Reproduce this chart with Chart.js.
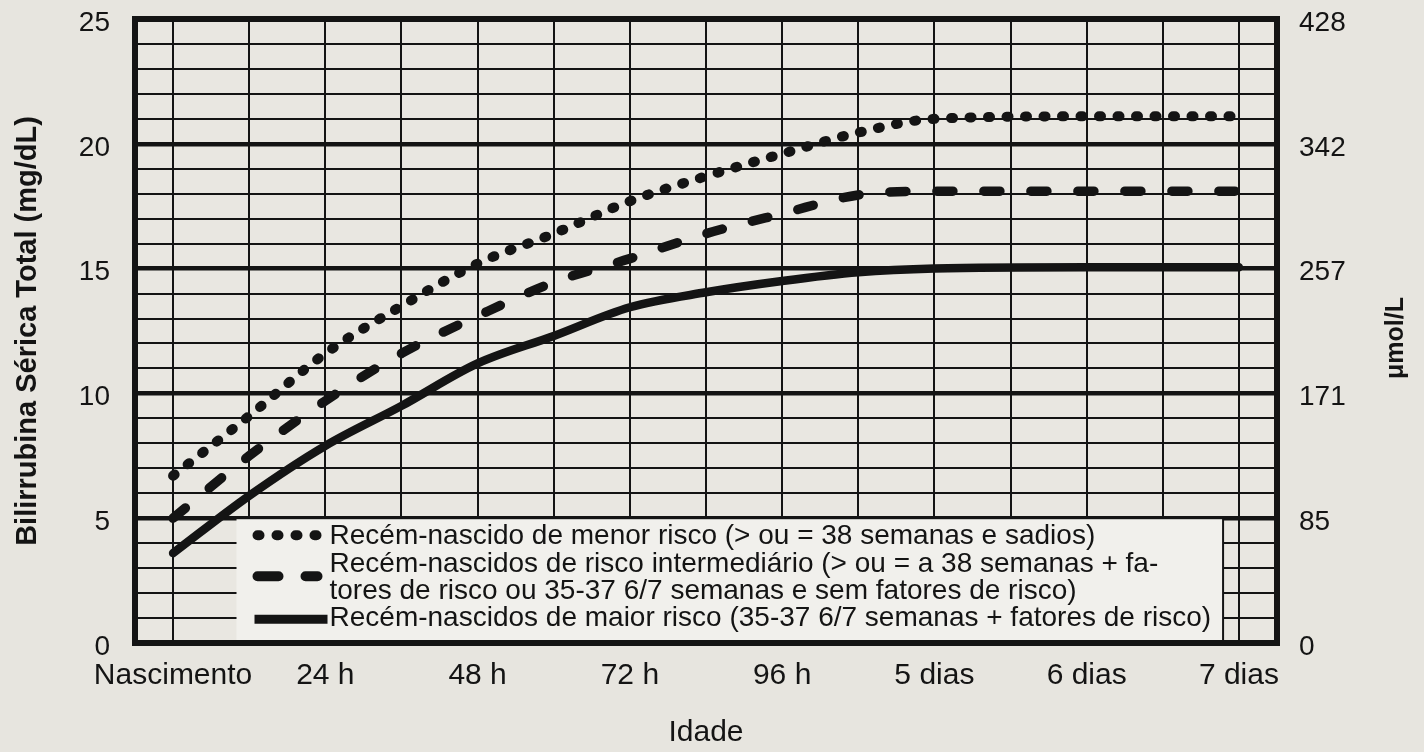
<!DOCTYPE html>
<html>
<head>
<meta charset="utf-8">
<script src="https://cdn.jsdelivr.net/npm/chart.js@4.4.1/dist/chart.umd.min.js"></script>
<style>
  html, body { margin: 0; padding: 0; background: #e7e5df; }
  #wrap { width: 1424px; height: 752px; }
</style>
</head>
<body>
<div id="wrap"><canvas id="chart" width="1424" height="752"></canvas></div>
<script>
// hours after birth, every 12 h
const hours = [0, 12, 24, 36, 48, 60, 72, 84, 96, 108, 120, 144, 168];
const lowerRisk = [6.7, 9.1, 11.6, 13.5, 15.2, 16.4, 17.7, 18.7, 19.6, 20.45, 21.0, 21.1, 21.1];
const mediumRisk = [5.0, 7.5, 9.7, 11.6, 13.1, 14.45, 15.4, 16.4, 17.2, 17.95, 18.1, 18.1, 18.1];
const higherRisk = [3.6, 5.9, 7.9, 9.5, 11.2, 12.3, 13.45, 14.05, 14.5, 14.85, 15.0, 15.05, 15.05];

const xTickHours = [0, 24, 48, 72, 96, 120, 144, 168];
const xTickLabels = ['Nascimento', '24 h', '48 h', '72 h', '96 h', '5 dias', '6 dias', '7 dias'];
const yTicks = [0, 5, 10, 15, 20, 25];
const umolTickLabels = ['0', '85', '171', '257', '342', '428'];

const legendLines = [
  'Recém-nascido de menor risco (> ou = 38 semanas e sadios)',
  'Recém-nascidos de risco intermediário (> ou = a 38 semanas + fa-',
  'tores de risco ou 35-37 6/7 semanas e sem fatores de risco)',
  'Recém-nascidos de maior risco (35-37 6/7 semanas + fatores de risco)'
];

const INK = '#141414';
const FONT = "'Liberation Sans', Arial, Helvetica, sans-serif";

const toPoints = vals => hours.map((h, i) => ({ x: h, y: vals[i] }));

// legend box + frame + right axis title
const extras = {
  id: 'extras',
  beforeDraw(chart) {
    const { ctx, chartArea: a } = chart;
    ctx.save();
    ctx.fillStyle = '#e9e7e1';
    ctx.fillRect(a.left, a.top, a.right - a.left, a.bottom - a.top);
    ctx.restore();
  },
  beforeDatasetsDraw(chart) {
    const { ctx, chartArea: a, scales } = chart;
    const left = scales.x.getPixelForValue(10);
    const right = scales.x.getPixelForValue(165.5);
    const top = scales.y.getPixelForValue(5) + 1;
    const bottom = a.bottom;
    ctx.save();
    ctx.fillStyle = '#f1f0ec';
    ctx.fillRect(left, top, right - left, bottom - top);
    ctx.strokeStyle = INK;
    ctx.lineWidth = 2;
    ctx.beginPath();
    ctx.moveTo(right, top - 1);
    ctx.lineTo(right, bottom);
    ctx.stroke();

    // symbols
    const sx = left + 21;
    ctx.lineWidth = 10;
    ctx.lineCap = 'round';
    ctx.setLineDash([2, 17]);
    ctx.beginPath(); ctx.moveTo(sx, top + 16); ctx.lineTo(sx + 60, top + 16); ctx.stroke();
    ctx.setLineDash([21, 27]);
    ctx.beginPath(); ctx.moveTo(sx, top + 57); ctx.lineTo(sx + 60, top + 57); ctx.stroke();
    ctx.setLineDash([]);
    ctx.lineCap = 'butt';
    ctx.lineWidth = 9;
    ctx.beginPath(); ctx.moveTo(sx - 3, top + 100); ctx.lineTo(sx + 70, top + 100); ctx.stroke();

    // text
    ctx.fillStyle = INK;
    ctx.font = '28px ' + FONT;
    ctx.textBaseline = 'alphabetic';
    ctx.textAlign = 'left';
    legendLines.forEach((t, i) => ctx.fillText(t, left + 93, top + 25 + i * 27.3));
    ctx.restore();
  },
  afterDraw(chart) {
    const { ctx, chartArea: a } = chart;
    ctx.save();
    ctx.strokeStyle = INK;
    ctx.lineWidth = 6;
    ctx.strokeRect(a.left, a.top, a.right - a.left, a.bottom - a.top);
    // right axis title reads bottom to top
    ctx.translate(1396, 338);
    ctx.rotate(-Math.PI / 2);
    ctx.font = 'bold 25px ' + FONT;
    ctx.fillStyle = INK;
    ctx.textAlign = 'center';
    ctx.textBaseline = 'middle';
    ctx.fillText('μmol/L', 0, 0);
    ctx.restore();
  }
};

const noVertPad = s => { s.paddingTop = 0; s.paddingBottom = 0; };

new Chart(document.getElementById('chart'), {
  type: 'line',
  data: {
    datasets: [
      {
        label: legendLines[0],
        data: toPoints(lowerRisk),
        borderColor: INK,
        borderWidth: 10,
        borderDash: [2, 16.5],
        borderCapStyle: 'round',
        borderJoinStyle: 'round',
        cubicInterpolationMode: 'monotone',
        pointRadius: 0,
        fill: false
      },
      {
        label: legendLines[1] + legendLines[2],
        data: toPoints(mediumRisk),
        borderColor: INK,
        borderWidth: 9.5,
        borderDash: [16, 31],
        borderCapStyle: 'round',
        borderJoinStyle: 'round',
        cubicInterpolationMode: 'monotone',
        pointRadius: 0,
        fill: false
      },
      {
        label: legendLines[3],
        data: toPoints(higherRisk),
        borderColor: INK,
        borderWidth: 8.5,
        borderCapStyle: 'round',
        borderJoinStyle: 'round',
        cubicInterpolationMode: 'monotone',
        pointRadius: 0,
        fill: false
      }
    ]
  },
  options: {
    responsive: false,
    animation: false,
    devicePixelRatio: 1,
    layout: { padding: { top: 19, left: 0, right: 0, bottom: 0 } },
    plugins: {
      legend: { display: false },
      tooltip: { enabled: false }
    },
    scales: {
      x: {
        type: 'linear',
        min: -6,
        max: 174,
        afterBuildTicks: s => {
          const t = [];
          for (let h = 0; h <= 168; h += 12) t.push({ value: h });
          s.ticks = t;
        },
        afterFit: s => { s.height = 109; s.paddingLeft = 0; s.paddingRight = 0; },
        ticks: {
          autoSkip: false,
          maxRotation: 0,
          padding: 15,
          color: INK,
          font: { family: FONT, size: 30 },
          callback: v => {
            const i = xTickHours.indexOf(v);
            return i >= 0 ? xTickLabels[i] : '';
          }
        },
        grid: { color: INK, lineWidth: 2, drawTicks: false },
        border: { display: false },
        title: {
          display: true,
          text: 'Idade',
          color: INK,
          font: { family: FONT, size: 30 },
          padding: { top: 0, bottom: 1 }
        }
      },
      y: {
        type: 'linear',
        position: 'left',
        min: 0,
        max: 25,
        afterBuildTicks: s => {
          const t = [];
          for (let v = 0; v <= 25; v++) t.push({ value: v });
          s.ticks = t;
        },
        afterFit: s => { s.width = 135; noVertPad(s); },
        ticks: {
          autoSkip: false,
          padding: 25,
          labelOffset: 4,
          color: INK,
          font: { family: FONT, size: 28 },
          callback: v => (yTicks.includes(v) ? String(v) : '')
        },
        grid: {
          color: INK,
          lineWidth: c => (c.tick && c.tick.value % 5 === 0 ? 4.5 : 2),
          drawTicks: false
        },
        border: { display: false },
        title: {
          display: true,
          text: 'Bilirrubina Sérica Total (mg/dL)',
          color: INK,
          font: { family: FONT, size: 29, weight: 'bold' },
          padding: { top: 11, bottom: 0 }
        }
      },
      y2: {
        type: 'linear',
        position: 'right',
        min: 0,
        max: 25,
        afterBuildTicks: s => { s.ticks = yTicks.map(v => ({ value: v })); },
        afterFit: s => { s.width = 147; noVertPad(s); },
        ticks: {
          autoSkip: false,
          padding: 22,
          labelOffset: 4,
          color: INK,
          font: { family: FONT, size: 28 },
          callback: v => umolTickLabels[yTicks.indexOf(v)]
        },
        grid: { display: false, drawTicks: false },
        border: { display: false }
      }
    }
  },
  plugins: [extras]
});
</script>
</body>
</html>
